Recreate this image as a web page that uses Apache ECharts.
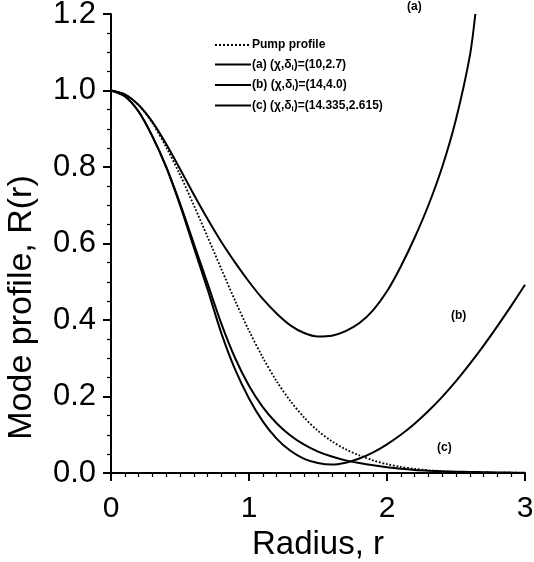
<!DOCTYPE html>
<html>
<head>
<meta charset="utf-8">
<script src="https://cdn.jsdelivr.net/npm/echarts@6/dist/echarts.min.js"></script>
<style>
html,body{margin:0;padding:0;background:#fff;}
#chart{width:534px;height:562px;}
</style>
</head>
<body>
<div id="chart"></div>
<script>
// Radius grid (r)
var radius = [0,0.1,0.2,0.3,0.4,0.5,0.6,0.7,0.8,0.9,1.0,1.1,1.2,1.3,1.4,1.5,1.6,1.7,1.8,1.9,2.0,2.1,2.2,2.3,2.4,2.5,2.6,2.7,2.8,2.9,3.0];
// Pump profile (dotted)
var pump = [1.0,0.99,0.962,0.915,0.852,0.78,0.70,0.617,0.533,0.45,0.372,0.302,0.24,0.188,0.145,0.11,0.083,0.062,0.046,0.033,0.023,0.016,0.011,0.007,0.005,0.003,0.002,0.0014,0.001,0.0007,0.0005];
// (a) (chi,delta_i)=(10,2.7)
var radiusA = [0,0.1,0.2,0.3,0.4,0.5,0.6,0.7,0.8,0.9,1.0,1.1,1.2,1.3,1.4,1.5,1.6,1.7,1.8,1.9,2.0,2.1,2.2,2.3,2.4,2.5,2.6,2.64];
var modeA = [1.0,0.99,0.962,0.918,0.86,0.795,0.728,0.664,0.604,0.55,0.50,0.455,0.417,0.386,0.366,0.357,0.359,0.371,0.392,0.426,0.475,0.54,0.615,0.70,0.80,0.925,1.09,1.2];
// (b) (chi,delta_i)=(14,4.0)
var modeB = [1.0,0.985,0.945,0.88,0.80,0.70,0.59,0.48,0.365,0.27,0.195,0.135,0.09,0.058,0.037,0.026,0.022,0.027,0.038,0.054,0.075,0.10,0.129,0.162,0.199,0.24,0.285,0.333,0.384,0.437,0.492];
// (c) (chi,delta_i)=(14.335,2.615)
var modeC = [1.0,0.985,0.945,0.88,0.80,0.705,0.60,0.495,0.39,0.30,0.228,0.172,0.13,0.098,0.074,0.056,0.043,0.033,0.026,0.02,0.015,0.011,0.008,0.006,0.0045,0.0035,0.0027,0.002,0.0015,0.001,0.0008];

var names = ['Pump profile', '(a) (χ,δ{s|i})=(10,2.7)', '(b) (χ,δ{s|i})=(14,4.0)', '(c) (χ,δ{s|i})=(14.335,2.615)'];

function pairs(xs, ys){ return xs.map(function(x,i){ return [x, ys[i]]; }); }

var chart = echarts.init(document.getElementById('chart'), null, {renderer:'canvas'});
var FONT = 'Liberation Sans, Arial, Helvetica, sans-serif';
function lineSeries(name, data, type){
  return {
    name: name, type: 'line', data: data, symbol: 'none', showSymbol: false,
    smooth: 0.3, clip: true, animation: false,
    lineStyle: {color: '#000', width: type === 'dotted' ? 1.8 : 2, type: type},
    itemStyle: {color: '#000'}
  };
}
chart.setOption({
  backgroundColor: '#fff',
  animation: false,
  grid: {left: 111, right: 9, top: 14, bottom: 89, containLabel: false, outerBoundsMode: 'none'},
  legend: {
    orient: 'vertical', left: 209, top: 34, itemWidth: 36, itemHeight: 10, itemGap: 7.5,
    data: names,
    itemStyle: {color: 'rgba(0,0,0,0)', borderWidth: 0, opacity: 0},
    textStyle: {fontFamily: FONT, fontSize: 12, fontWeight: 'bold', color: '#000', padding: [0,0,0,-4],
      rich: {s: {fontSize: 8, fontWeight: 'bold', fontFamily: FONT, verticalAlign: 'bottom', padding: [6,0,0,0]}}}
  },
  xAxis: {
    type: 'value', min: 0, max: 3, interval: 1,
    name: 'Radius, r', nameLocation: 'middle', nameGap: 52,
    nameTextStyle: {fontFamily: FONT, fontSize: 33, color: '#000'},
    axisLine: {show: true, onZero: false, lineStyle: {color: '#000', width: 2}},
    axisTick: {show: true, length: 8, lineStyle: {color: '#000', width: 2}},
    minorTick: {show: true, splitNumber: 10, length: 4, lineStyle: {color: '#000', width: 1.2}},
    axisLabel: {fontFamily: FONT, fontSize: 30, color: '#000', margin: 21},
    splitLine: {show: false}
  },
  yAxis: {
    type: 'value', min: 0, max: 1.2, interval: 0.2,
    name: 'Mode profile, R(r)', nameLocation: 'middle', nameGap: 72,
    nameTextStyle: {fontFamily: FONT, fontSize: 34, color: '#000', padding: [0, 128, 0, 0]},
    axisLine: {show: true, onZero: false, lineStyle: {color: '#000', width: 2}},
    axisTick: {show: true, length: 8, lineStyle: {color: '#000', width: 2}},
    minorTick: {show: true, splitNumber: 4, length: 4, lineStyle: {color: '#000', width: 1.2}},
    axisLabel: {fontFamily: FONT, fontSize: 31, color: '#000', margin: 15,
      formatter: function(v){ return v.toFixed(1); }},
    splitLine: {show: false}
  },
  series: [
    lineSeries(names[0], pairs(radius, pump), 'dotted'),
    lineSeries(names[1], pairs(radiusA, modeA), 'solid'),
    lineSeries(names[2], pairs(radius, modeB), 'solid'),
    lineSeries(names[3], pairs(radius, modeC), 'solid')
  ],
  graphic: [
    {type: 'text', left: 407, top: 1, style: {text: '(a)', font: 'bold 12px ' + FONT, fill: '#000'}},
    {type: 'text', left: 451, top: 310, style: {text: '(b)', font: 'bold 12px ' + FONT, fill: '#000'}},
    {type: 'text', left: 437, top: 442, style: {text: '(c)', font: 'bold 12px ' + FONT, fill: '#000'}}
  ]
});
</script>
</body>
</html>
